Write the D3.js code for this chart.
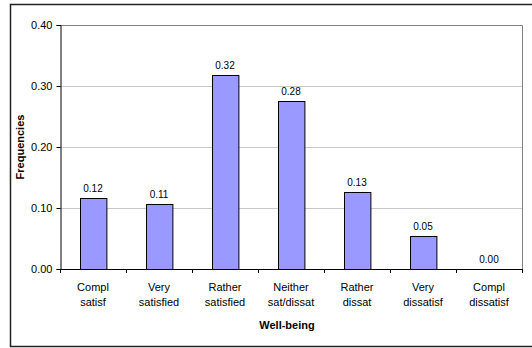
<!DOCTYPE html>
<html>
<head>
<meta charset="utf-8">
<script src="https://cdn.jsdelivr.net/npm/d3@7"></script>
<style>
  html, body { margin: 0; padding: 0; background: #fff; }
  svg { display: block; font-family: "Liberation Sans", Arial, sans-serif; }
</style>
</head>
<body>
<svg id="chart" width="532" height="348"></svg>
<script>
// Well-being response categories (two text lines each)
const categories = [
  ["Compl", "satisf"],
  ["Very", "satisfied"],
  ["Rather", "satisfied"],
  ["Neither", "sat/dissat"],
  ["Rather", "dissat"],
  ["Very", "dissatisf"],
  ["Compl", "dissatisf"]
];
// Relative frequency of each category
const frequencies = [0.117, 0.107, 0.318, 0.276, 0.127, 0.054, 0.0];
const yTicks = [0, 0.1, 0.2, 0.3, 0.4];

const svg = d3.select("#chart");
const plot = { left: 60, top: 25, right: 522, bottom: 269 };

// Outer chart frame
svg.append("rect")
  .attr("x", 10.5).attr("y", 4.5)
  .attr("width", 530).attr("height", 342)
  .attr("fill", "#fff").attr("stroke", "#222").attr("stroke-width", 1.5);

const labels = categories.map((c, i) => i);
const x = d3.scaleBand().domain(labels).range([plot.left, plot.right]).paddingInner(0.6).paddingOuter(0.3);
const xb = d3.scaleBand().domain(labels).range([plot.left, plot.right]);
const y = d3.scaleLinear().domain([0, 0.4]).range([plot.bottom, plot.top]);

// Gridlines
svg.append("g").selectAll("line").data(yTicks.slice(1)).join("line")
  .attr("x1", plot.left).attr("x2", plot.right)
  .attr("y1", d => Math.round(y(d)) + 0.5).attr("y2", d => Math.round(y(d)) + 0.5)
  .attr("stroke", "#c8c8c8").attr("stroke-width", 1);

// Plot area border (top/right)
svg.append("path")
  .attr("d", `M${plot.left},${plot.top + 0.5}H${plot.right + 0.5}V${plot.bottom}`)
  .attr("fill", "none").attr("stroke", "#808080").attr("stroke-width", 1);

// Bars
svg.append("g").selectAll("rect").data(frequencies).join("rect")
  .attr("x", (d, i) => Math.round(x(i)) + 0.5)
  .attr("y", d => Math.round(y(d)) + 0.5)
  .attr("width", x.bandwidth())
  .attr("height", d => Math.max(0, plot.bottom - Math.round(y(d))))
  .attr("fill", "#9999ff").attr("stroke", "#000").attr("stroke-width", 1)
  .attr("display", d => d > 0 ? null : "none");

// Value labels
svg.append("g").selectAll("text").data(frequencies).join("text")
  .attr("x", (d, i) => xb(i) + xb.bandwidth() / 2)
  .attr("y", d => y(d) - 6)
  .attr("text-anchor", "middle")
  .attr("font-size", 10).attr("fill", "#000")
  .text(d => d.toFixed(2));

// Y axis
const yAxis = svg.append("g")
  .attr("transform", `translate(${plot.left + 0.5},0)`)
  .call(d3.axisLeft(y).tickValues(yTicks).tickFormat(d3.format(".2f")).tickSize(4).tickPadding(4));
yAxis.select(".domain").attr("stroke", "#000");
yAxis.selectAll(".tick line").attr("stroke", "#000");
yAxis.selectAll("text").attr("font-size", 11).attr("font-family", "Liberation Sans, Arial, sans-serif").attr("fill", "#000");

// X axis with ticks at band boundaries
svg.append("line")
  .attr("x1", plot.left).attr("x2", plot.right + 0.5)
  .attr("y1", plot.bottom + 0.5).attr("y2", plot.bottom + 0.5)
  .attr("stroke", "#000");
svg.append("g").selectAll("line").data(labels.concat([labels.length])).join("line")
  .attr("x1", i => Math.round(i < labels.length ? xb(i) : plot.right) + 0.5)
  .attr("x2", i => Math.round(i < labels.length ? xb(i) : plot.right) + 0.5)
  .attr("y1", plot.bottom).attr("y2", plot.bottom + 4)
  .attr("stroke", "#000");

// Category labels
const catText = svg.append("g").selectAll("text").data(categories).join("text")
  .attr("text-anchor", "middle").attr("font-size", 11).attr("fill", "#000");
catText.each(function(c, i) {
  const t = d3.select(this);
  c.forEach((line, k) => {
    t.append("tspan")
      .attr("x", xb(i) + xb.bandwidth() / 2)
      .attr("y", 291 + k * 15)
      .text(line);
  });
});

// Axis titles
svg.append("text")
  .attr("x", (plot.left + plot.right) / 2 - 4).attr("y", 329)
  .attr("text-anchor", "middle").attr("font-size", 11).attr("font-weight", "bold")
  .text("Well-being");
svg.append("text")
  .attr("transform", `translate(24,${(plot.top + plot.bottom) / 2}) rotate(-90)`)
  .attr("text-anchor", "middle").attr("font-size", 11).attr("font-weight", "bold")
  .text("Frequencies");
</script>
</body>
</html>
